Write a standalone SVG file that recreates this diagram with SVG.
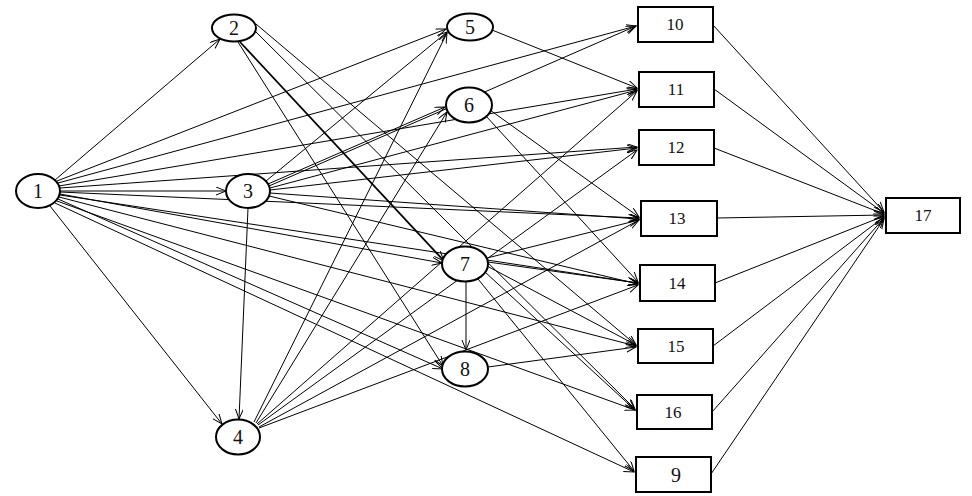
<svg xmlns="http://www.w3.org/2000/svg" width="972" height="496" viewBox="0 0 972 496">
<defs>
<marker id="a" markerUnits="userSpaceOnUse" markerWidth="12" markerHeight="10" refX="10" refY="4" orient="auto">
<path d="M0,0 L10,4 L0,8" fill="none" stroke="#000" stroke-width="1"/>
</marker>
<style>
.n ellipse{fill:#fff;stroke:#000;stroke-width:2}
.n rect{fill:#fff;stroke:#000;stroke-width:2}
.n text{font-family:"Liberation Serif","Times New Roman",serif;font-size:20px;text-anchor:middle;fill:#111}
.b text{font-size:17px}
#edges line{stroke:#000;stroke-width:1;marker-end:url(#a)}
</style>
</defs>
<rect width="972" height="496" fill="#fff"/>
<g id="edges">
<line x1="55" y1="180" x2="220" y2="39"/>
<line x1="57" y1="181" x2="446" y2="29"/>
<line x1="58" y1="183" x2="636" y2="26"/>
<line x1="59" y1="186" x2="637" y2="89"/>
<line x1="60" y1="188" x2="637" y2="147"/>
<line x1="60" y1="191" x2="226" y2="191"/>
<line x1="60" y1="192" x2="639" y2="218"/>
<line x1="60" y1="194" x2="442" y2="263"/>
<line x1="60" y1="195" x2="638" y2="283"/>
<line x1="59" y1="197" x2="636" y2="346"/>
<line x1="58" y1="199" x2="443" y2="369"/>
<line x1="57" y1="201" x2="635" y2="410"/>
<line x1="55" y1="203" x2="634" y2="472"/>
<line x1="50" y1="206" x2="222" y2="424"/>
<line x1="240" y1="42" x2="444" y2="261" style="stroke-width:1.8"/>
<line x1="238" y1="42" x2="443" y2="366"/>
<line x1="256" y1="24" x2="636" y2="345"/>
<line x1="254" y1="30" x2="635" y2="409"/>
<line x1="266" y1="181" x2="447" y2="32"/>
<line x1="268" y1="184" x2="445" y2="107"/>
<line x1="269" y1="186" x2="636" y2="26"/>
<line x1="270" y1="188" x2="637" y2="90"/>
<line x1="270" y1="190" x2="637" y2="148"/>
<line x1="270" y1="193" x2="639" y2="219"/>
<line x1="269" y1="196" x2="638" y2="284"/>
<line x1="248" y1="208" x2="239" y2="419"/>
<line x1="254" y1="422" x2="447" y2="33"/>
<line x1="256" y1="423" x2="447" y2="112"/>
<line x1="257" y1="424" x2="637" y2="91"/>
<line x1="258" y1="425" x2="637" y2="150"/>
<line x1="259" y1="427" x2="639" y2="220"/>
<line x1="259" y1="428" x2="638" y2="285"/>
<line x1="492" y1="30" x2="637" y2="88"/>
<line x1="490" y1="110" x2="639" y2="217"/>
<line x1="486" y1="116" x2="638" y2="282"/>
<line x1="487" y1="258" x2="639" y2="220"/>
<line x1="488" y1="262" x2="638" y2="283"/>
<line x1="487" y1="266" x2="636" y2="345"/>
<line x1="485" y1="272" x2="635" y2="410"/>
<line x1="478" y1="279" x2="634" y2="471"/>
<line x1="466" y1="282" x2="466" y2="350"/>
<line x1="488" y1="367" x2="636" y2="347"/>
<line x1="713" y1="25" x2="884" y2="212"/>
<line x1="714" y1="89" x2="884" y2="213"/>
<line x1="714" y1="148" x2="884" y2="214"/>
<line x1="717" y1="218" x2="884" y2="215"/>
<line x1="715" y1="283" x2="884" y2="216"/>
<line x1="713" y1="346" x2="884" y2="217"/>
<line x1="712" y1="412" x2="884" y2="218"/>
<line x1="711" y1="474" x2="884" y2="219"/>
</g>
<g id="n1" class="n"><ellipse cx="38" cy="191" rx="22" ry="17"/><text x="38" y="198">1</text></g>
<g id="n2" class="n"><ellipse cx="234" cy="28" rx="22" ry="13.5"/><text x="234" y="35">2</text></g>
<g id="n3" class="n"><ellipse cx="248" cy="191" rx="22" ry="17"/><text x="248" y="198">3</text></g>
<g id="n4" class="n"><ellipse cx="238" cy="437" rx="22" ry="17.5"/><text x="238" y="444">4</text></g>
<g id="n5" class="n"><ellipse cx="470" cy="27" rx="23" ry="13.5"/><text x="470" y="34">5</text></g>
<g id="n6" class="n"><ellipse cx="469" cy="105" rx="23" ry="17.5"/><text x="469" y="112">6</text></g>
<g id="n7" class="n"><ellipse cx="465" cy="264" rx="23" ry="17.5"/><text x="465" y="271">7</text></g>
<g id="n8" class="n"><ellipse cx="465" cy="369" rx="23" ry="17.5"/><text x="465" y="376">8</text></g>
<g id="n10" class="n b"><rect x="638" y="7" width="75" height="35"/><text x="675" y="30">10</text></g>
<g id="n11" class="n b"><rect x="639" y="72" width="75" height="35"/><text x="676" y="95">11</text></g>
<g id="n12" class="n b"><rect x="639" y="130" width="75" height="35"/><text x="676" y="153">12</text></g>
<g id="n13" class="n b"><rect x="641" y="201" width="76" height="35"/><text x="677" y="224">13</text></g>
<g id="n14" class="n b"><rect x="640" y="265" width="75" height="36"/><text x="677" y="289">14</text></g>
<g id="n15" class="n b"><rect x="638" y="329" width="75" height="34"/><text x="676" y="352">15</text></g>
<g id="n16" class="n b"><rect x="637" y="395" width="75" height="34"/><text x="673" y="418">16</text></g>
<g id="n9" class="n"><rect x="636" y="457" width="75" height="35"/><text x="676" y="482">9</text></g>
<g id="n17" class="n b"><rect x="886" y="198" width="74" height="35"/><text x="923" y="221">17</text></g>
</svg>
